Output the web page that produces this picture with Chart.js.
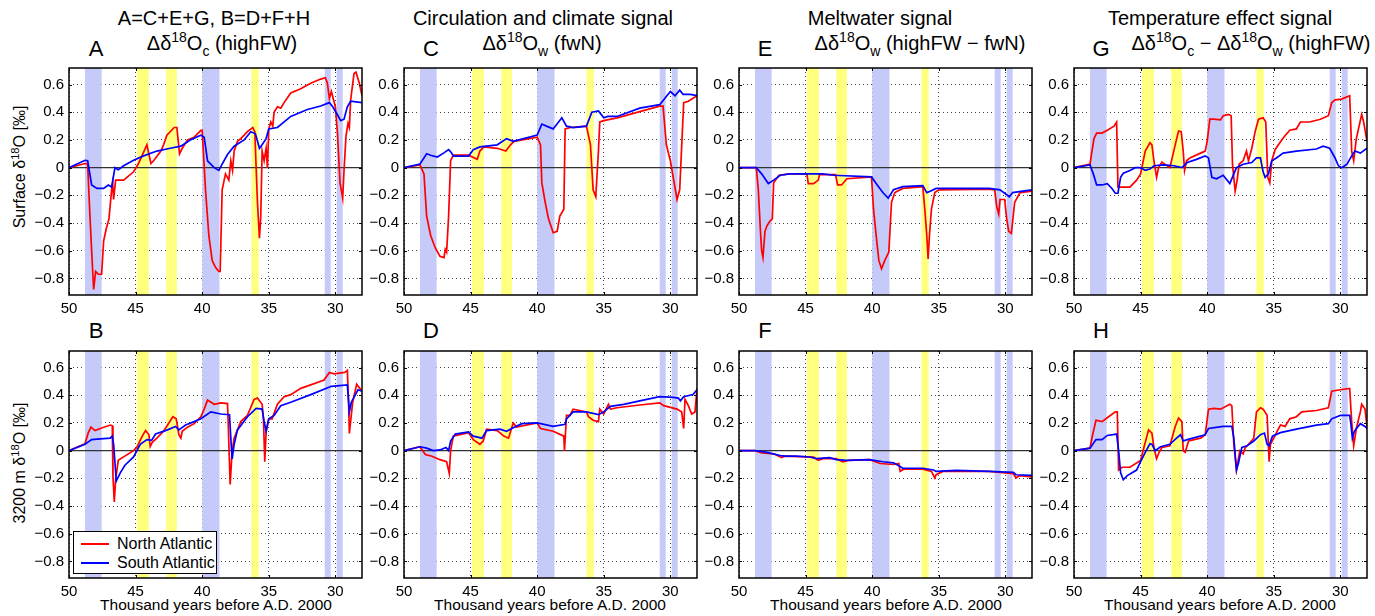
<!DOCTYPE html>
<html>
<head>
<meta charset="utf-8">
<script src="https://cdn.jsdelivr.net/npm/chart.js@4.4.0/dist/chart.umd.min.js"></script>
<style>
  body {
    margin: 0;
    width: 1375px;
    height: 616px;
    position: relative;
    overflow: hidden;
    background: #fff;
    font-family: "Liberation Sans", Arial, sans-serif;
    color: #000;
  }
  canvas { position: absolute; }
  .txt {
    position: absolute;
    white-space: nowrap;
    transform: translate(-50%, -50%);
    line-height: 1;
  }
  .title { font-size: 20px; }
  .letter { font-size: 22px; }
  .ylab { font-size: 16px; transform: translate(-50%, -50%) rotate(-90deg); }
  .xlab { font-size: 15.5px; }
  sup, sub { font-size: 70%; line-height: 0; position: relative; vertical-align: baseline; }
  sup { top: -0.55em; }
  sub { top: 0.45em; }
  #legend {
    position: absolute;
    left: 73px; top: 531px; width: 142px; height: 41px;
    background: #fff; border: 1px solid #000;
    font-size: 16px;
  }
  .lg { position: absolute; left: 7px; height: 0; width: 28px; border-top: 2px solid; }
  .lt { position: absolute; left: 43px; transform: translateY(-50%); white-space: nowrap; line-height: 1; }
</style>
</head>
<body>

<div class="txt title" style="left:214px; top:18px;">A=C+E+G, B=D+F+H</div>
<div class="txt title" style="left:222px; top:43px;">&Delta;&delta;<sup>18</sup>O<sub>c</sub> (highFW)</div>
<div class="txt title" style="left:543px; top:18px;">Circulation and climate signal</div>
<div class="txt title" style="left:542px; top:43px;">&Delta;&delta;<sup>18</sup>O<sub>w</sub> (fwN)</div>
<div class="txt title" style="left:880px; top:18px;">Meltwater signal</div>
<div class="txt title" style="left:920px; top:43px;">&Delta;&delta;<sup>18</sup>O<sub>w</sub> (highFW &minus; fwN)</div>
<div class="txt title" style="left:1220px; top:18px;">Temperature effect signal</div>
<div class="txt title" style="left:1251px; top:43px;">&Delta;&delta;<sup>18</sup>O<sub>c</sub> &minus; &Delta;&delta;<sup>18</sup>O<sub>w</sub> (highFW)</div>

<div class="txt letter" style="left:96px; top:49px;">A</div>
<div class="txt letter" style="left:431px; top:49px;">C</div>
<div class="txt letter" style="left:765px; top:49px;">E</div>
<div class="txt letter" style="left:1101px; top:49px;">G</div>
<div class="txt letter" style="left:96px; top:331px;">B</div>
<div class="txt letter" style="left:431px; top:331px;">D</div>
<div class="txt letter" style="left:765px; top:331px;">F</div>
<div class="txt letter" style="left:1101px; top:331px;">H</div>

<div class="txt ylab" style="left:20px; top:167px;">Surface &delta;<sup>18</sup>O [&permil;]</div>
<div class="txt ylab" style="left:20px; top:463px;">3200 m &delta;<sup>18</sup>O [&permil;]</div>

<div class="txt xlab" style="left:216px; top:605px;">Thousand years before A.D. 2000</div>
<div class="txt xlab" style="left:550px; top:605px;">Thousand years before A.D. 2000</div>
<div class="txt xlab" style="left:886px; top:605px;">Thousand years before A.D. 2000</div>
<div class="txt xlab" style="left:1220px; top:605px;">Thousand years before A.D. 2000</div>

<script>
// ages in thousand years before A.D. 2000, values in permil
const xTicks = [50, 45, 40, 35, 30];
const yTicks = [-0.8, -0.6, -0.4, -0.2, 0, 0.2, 0.4, 0.6];

// stadial / event shading
const blueBands = [[48.8, 47.55], [40.0, 38.7], [30.8, 30.35], [29.9, 29.45]];
const yellowBands = [[44.9, 44.0], [42.7, 41.9], [36.3, 35.75]];

const seriesNames = ["North Atlantic", "South Atlantic"];

// A: surface d18Oc (highFW)
const aNorth = [[50,0],[48.8,0.03],[48.6,0.025],[48.45,-0.3],[48.3,-0.6],[48.15,-0.88],[48.0,-0.75],[47.8,-0.77],[47.55,-0.77],[47.4,-0.53],[47.2,-0.44],[47.0,-0.37],[46.8,-0.16],[46.72,-0.11],[46.65,-0.23],[46.5,-0.09],[45.9,-0.09],[45.15,-0.03],[44.8,0.026],[44.15,0.165],[43.85,0.03],[43.65,0.05],[43.1,0.12],[42.9,0.165],[42.65,0.235],[42.1,0.29],[41.9,0.29],[41.7,0.1],[41.5,0.14],[41.1,0.2],[40.6,0.22],[40.1,0.27],[40.0,0.27],[39.75,-0.16],[39.5,-0.49],[39.25,-0.67],[39.0,-0.72],[38.75,-0.75],[38.65,-0.75],[38.5,-0.16],[38.25,-0.045],[38.0,-0.09],[37.85,0.05],[37.72,-0.02],[37.6,0.12],[37.35,0.19],[37.1,0.21],[36.6,0.26],[36.2,0.29],[36.05,0.26],[35.85,-0.25],[35.7,-0.51],[35.6,-0.35],[35.5,0.12],[35.35,0.05],[35.2,0.14],[35.1,0.0],[35.0,0.28],[34.85,0.33],[34.7,0.3],[34.6,0.4],[34.35,0.44],[34.1,0.43],[33.85,0.47],[33.35,0.54],[32.6,0.57],[31.85,0.61],[31.1,0.64],[30.75,0.65],[30.6,0.61],[30.45,0.5],[30.3,0.55],[30.0,0.44],[29.85,0.26],[29.65,-0.11],[29.45,-0.22],[29.35,-0.02],[29.2,0.23],[29.05,0.32],[28.95,0.29],[28.85,0.49],[28.6,0.68],[28.45,0.69],[28.2,0.61],[28.0,0.52]];
const aSouth = [[50,0],[48.8,0.053],[48.6,0.05],[48.3,-0.125],[47.9,-0.15],[47.4,-0.15],[47.05,-0.125],[46.8,-0.14],[46.55,0],[46.3,-0.015],[45.9,0.014],[45.15,0.053],[44.4,0.085],[43.4,0.12],[42.4,0.14],[41.6,0.155],[40.9,0.2],[40.1,0.235],[39.85,0.22],[39.6,0.05],[39.1,0],[38.75,-0.02],[38.5,0.025],[38.1,0.095],[37.6,0.155],[36.85,0.2],[36.35,0.26],[36.0,0.245],[35.7,0.14],[35.5,0.165],[35.2,0.21],[35.0,0.28],[34.35,0.29],[33.35,0.37],[32.1,0.42],[31.1,0.445],[30.45,0.47],[30.2,0.44],[29.8,0.375],[29.6,0.34],[29.35,0.35],[29.1,0.44],[28.85,0.48],[28.0,0.47]];

// B: 3200 m d18Oc (highFW)
const bNorth = [[50,0],[48.8,0.05],[48.55,0.13],[48.35,0.17],[48.05,0.145],[47.65,0.16],[46.9,0.185],[46.75,0.18],[46.7,-0.185],[46.6,-0.37],[46.5,-0.21],[46.3,-0.07],[45.9,-0.045],[45.15,0],[44.9,0.025],[44.5,0.105],[44.25,0.145],[44.0,0.115],[43.9,0.03],[43.75,0.06],[43.4,0.09],[42.9,0.14],[42.5,0.2],[42.2,0.245],[41.95,0.23],[41.75,0.115],[41.6,0.09],[41.5,0.14],[41.1,0.17],[40.6,0.195],[40.1,0.245],[39.85,0.3],[39.6,0.365],[39.1,0.335],[38.6,0.345],[38.1,0.34],[38.05,0.21],[37.9,-0.245],[37.75,0.0],[37.6,0.09],[37.1,0.21],[36.6,0.255],[36.1,0.37],[35.85,0.38],[35.5,0.335],[35.4,0.23],[35.3,-0.08],[35.2,0.14],[35.0,0.23],[34.75,0.23],[34.35,0.335],[33.85,0.39],[33.35,0.405],[32.6,0.45],[31.85,0.475],[30.85,0.51],[30.45,0.565],[30.1,0.555],[29.3,0.565],[29.1,0.58],[29.0,0.325],[28.95,0.125],[28.7,0.35],[28.4,0.48],[28.0,0.43]];
const bSouth = [[50,0],[48.8,0.046],[48.3,0.08],[47.65,0.085],[46.9,0.09],[46.75,0.105],[46.65,0.046],[46.45,-0.22],[46.15,-0.16],[45.8,-0.105],[45.15,-0.045],[44.65,0.046],[44.15,0.08],[43.8,0.074],[43.5,0.12],[42.6,0.15],[42.0,0.175],[41.75,0.15],[41.25,0.185],[40.6,0.21],[40.1,0.23],[39.35,0.28],[38.6,0.265],[37.95,0.26],[37.85,0.09],[37.75,-0.06],[37.6,0.046],[37.35,0.15],[36.6,0.245],[35.95,0.305],[35.5,0.3],[35.35,0.21],[35.2,0.14],[35.0,0.23],[34.6,0.255],[34.1,0.325],[33.35,0.35],[31.85,0.405],[30.3,0.465],[29.1,0.475],[28.95,0.28],[28.8,0.35],[28.3,0.44],[28.0,0.43]];

// C: surface d18Ow (fwN)
const cNorth = [[50,0],[48.8,0.02],[48.5,-0.045],[48.3,-0.35],[48.0,-0.49],[47.65,-0.58],[47.3,-0.64],[47.0,-0.65],[46.9,-0.59],[46.8,-0.61],[46.65,-0.35],[46.5,0.05],[46.3,0.09],[45.15,0.09],[44.5,0.06],[44.3,0.12],[44.0,0.15],[43.0,0.14],[42.35,0.12],[42.0,0.165],[41.75,0.19],[40.0,0.22],[39.75,0.165],[39.65,-0.11],[39.4,-0.25],[39.15,-0.37],[38.8,-0.47],[38.5,-0.46],[38.3,-0.35],[38.0,-0.3],[37.9,0.28],[37.5,0.29],[36.3,0.3],[36.0,0.165],[35.8,-0.16],[35.6,-0.21],[35.4,0.12],[35.3,0.33],[35.0,0.34],[34.0,0.36],[30.8,0.445],[30.55,0.445],[30.3,0.165],[30.0,0.05],[29.5,-0.23],[29.3,-0.16],[29.0,0.47],[28.65,0.48],[28.0,0.52]];
const cSouth = [[50,0],[48.8,0.026],[48.3,0.1],[48.0,0.09],[47.5,0.077],[47.0,0.107],[46.65,0.13],[46.45,0.11],[46.3,0.084],[45.15,0.084],[44.8,0.13],[44.3,0.15],[43.0,0.165],[42.3,0.21],[41.8,0.19],[40.0,0.235],[39.65,0.315],[39.3,0.3],[38.8,0.28],[38.15,0.36],[37.8,0.3],[37.3,0.29],[36.3,0.3],[35.9,0.4],[35.4,0.41],[35.0,0.36],[34.7,0.37],[34.0,0.37],[32.3,0.43],[30.8,0.455],[30.0,0.55],[29.65,0.52],[29.3,0.56],[29.05,0.53],[28.5,0.53],[28.0,0.52]];

// D: 3200 m d18Ow (fwN)
const dNorth = [[50,0],[48.8,0.028],[48.4,-0.028],[47.9,-0.04],[47.3,-0.065],[46.8,-0.08],[46.6,-0.165],[46.5,0],[46.3,0.105],[45.15,0.13],[44.8,0.08],[44.3,0.046],[44.05,0.07],[43.8,0.155],[43.0,0.145],[42.5,0.105],[42.15,0.09],[41.8,0.2],[41.55,0.17],[40.0,0.2],[39.75,0.16],[38.8,0.14],[38.0,0.105],[37.95,0],[37.8,0.255],[37.55,0.255],[37.3,0.3],[36.3,0.28],[36.15,0.245],[35.8,0.22],[35.4,0.21],[35.3,0.3],[35.0,0.265],[34.65,0.335],[34.5,0.3],[34.0,0.31],[32.3,0.33],[30.8,0.345],[30.5,0.325],[29.5,0.3],[29.15,0.28],[29.0,0.16],[28.9,0.37],[28.65,0.325],[28.4,0.265],[28.15,0.28],[28.0,0.45]];
const dSouth = [[50,0],[48.8,0.028],[48.3,0.018],[47.8,0],[47.3,0.005],[46.85,0.023],[46.65,0],[46.5,0.07],[46.15,0.12],[45.15,0.135],[44.8,0.105],[44.15,0.09],[43.8,0.145],[42.8,0.155],[42.3,0.14],[41.8,0.165],[41.15,0.195],[40.0,0.2],[38.8,0.175],[37.9,0.19],[37.8,0.23],[37.3,0.28],[36.3,0.28],[35.4,0.26],[35.0,0.28],[34.5,0.32],[33.5,0.335],[32.3,0.36],[30.8,0.39],[29.8,0.385],[29.4,0.38],[29.25,0.36],[29.0,0.39],[28.3,0.405],[28.0,0.44]];

// E: surface d18Ow (highFW - fwN)
const eNorth = [[50,0],[48.7,0],[48.55,-0.16],[48.4,-0.44],[48.3,-0.6],[48.2,-0.65],[48.05,-0.46],[47.9,-0.42],[47.7,-0.39],[47.5,-0.37],[47.4,-0.11],[47.0,-0.055],[46.2,-0.045],[44.9,-0.045],[44.8,-0.115],[44.4,-0.115],[44.05,-0.09],[43.95,-0.05],[42.75,-0.05],[42.6,-0.125],[42.3,-0.125],[41.9,-0.08],[40.05,-0.067],[39.9,-0.3],[39.7,-0.49],[39.5,-0.67],[39.3,-0.73],[39.05,-0.67],[38.75,-0.61],[38.55,-0.25],[38.3,-0.18],[37.7,-0.15],[36.2,-0.137],[36.05,-0.3],[35.9,-0.49],[35.8,-0.66],[35.7,-0.49],[35.55,-0.3],[35.3,-0.18],[35.0,-0.16],[31.2,-0.155],[30.8,-0.16],[30.65,-0.28],[30.5,-0.335],[30.4,-0.23],[30.05,-0.23],[29.9,-0.37],[29.75,-0.46],[29.55,-0.475],[29.3,-0.25],[28.9,-0.18],[28.0,-0.17]];
const eSouth = [[50,0],[48.7,0],[48.3,-0.045],[47.8,-0.115],[47.4,-0.09],[46.9,-0.055],[46.2,-0.045],[43.7,-0.045],[42.9,-0.055],[40.05,-0.067],[39.7,-0.115],[39.2,-0.18],[38.8,-0.22],[38.4,-0.16],[37.7,-0.137],[36.2,-0.13],[35.9,-0.18],[35.65,-0.17],[35.2,-0.15],[31.2,-0.15],[30.4,-0.16],[29.7,-0.21],[29.45,-0.18],[28.7,-0.17],[28.0,-0.16]];

// F: 3200 m d18Ow (highFW - fwN)
const fNorth = [[50,0],[48.8,0],[48.3,-0.016],[47.4,-0.023],[46.8,-0.05],[46.6,-0.04],[44.4,-0.046],[44.05,-0.07],[43.7,-0.058],[42.7,-0.058],[42.2,-0.08],[41.8,-0.07],[40.2,-0.065],[39.4,-0.093],[38.4,-0.1],[38.0,-0.093],[37.9,-0.15],[37.65,-0.134],[36.2,-0.134],[35.55,-0.15],[35.3,-0.197],[35.2,-0.174],[34.7,-0.15],[31.2,-0.15],[29.4,-0.167],[29.2,-0.197],[28.95,-0.18],[28.0,-0.19]];
const fSouth = [[50,0],[48.8,0],[47.9,-0.012],[46.9,-0.035],[46.6,-0.04],[45.7,-0.04],[44.7,-0.046],[44.2,-0.058],[43.2,-0.05],[42.7,-0.065],[41.9,-0.07],[40.2,-0.065],[39.2,-0.08],[38.4,-0.088],[37.9,-0.115],[37.7,-0.127],[36.2,-0.127],[35.4,-0.14],[35.2,-0.15],[33.7,-0.143],[31.2,-0.15],[29.4,-0.157],[29.2,-0.174],[28.0,-0.178]];

// G: surface d18Oc - d18Ow (highFW)
const gNorth = [[50,0],[48.8,0.025],[48.65,0.12],[48.5,0.21],[48.3,0.25],[47.9,0.25],[47.5,0.27],[47.0,0.3],[46.8,0.33],[46.7,-0.14],[46.4,-0.14],[45.8,-0.14],[45.3,-0.09],[45.0,-0.045],[44.65,0.12],[44.3,0.18],[44.15,0.165],[44.0,0.05],[43.8,-0.07],[43.65,0],[43.4,0.04],[42.8,0],[42.4,0.165],[42.15,0.265],[41.95,0.26],[41.8,0.12],[41.7,-0.02],[41.55,0.05],[41.3,0.07],[40.5,0.105],[40.15,0.12],[40.0,0.19],[39.8,0.35],[39.5,0.35],[39.0,0.345],[38.8,0.375],[38.4,0.385],[38.2,0.375],[38.1,0.025],[37.9,-0.17],[37.75,-0.09],[37.6,0.025],[37.3,0.05],[37.05,0.12],[36.9,0.05],[36.65,0.14],[36.4,0.26],[36.15,0.35],[35.8,0.36],[35.6,0.33],[35.45,-0.07],[35.3,-0.11],[35.15,0.05],[34.9,0.13],[34.65,0.165],[34.4,0.2],[34.25,0.22],[33.8,0.27],[33.3,0.28],[33.0,0.33],[32.3,0.33],[31.5,0.35],[30.9,0.375],[30.65,0.47],[30.4,0.49],[29.9,0.495],[29.3,0.52],[29.15,0.12],[29.0,0.05],[28.8,0.21],[28.4,0.385],[28.25,0.33],[28.0,0.19]];
const gSouth = [[50,0],[48.8,0.02],[48.55,-0.045],[48.3,-0.125],[47.9,-0.125],[47.5,-0.115],[47.15,-0.15],[46.9,-0.185],[46.7,-0.185],[46.5,-0.07],[46.3,-0.04],[45.8,-0.02],[45.4,0],[45.0,0],[44.65,-0.02],[44.3,-0.01],[44.0,0.014],[43.3,0.02],[42.5,0.014],[41.9,0],[41.5,0.037],[40.8,0.06],[40.15,0.085],[39.9,0.07],[39.65,-0.07],[39.3,-0.08],[38.8,-0.055],[38.3,-0.115],[38.0,-0.045],[37.8,0],[37.3,0.025],[36.65,0.037],[36.3,0.07],[36.0,0.07],[35.8,-0.03],[35.65,-0.07],[35.4,-0.045],[35.15,0.05],[34.8,0.07],[34.3,0.105],[33.3,0.12],[31.8,0.135],[31.3,0.155],[30.8,0.14],[30.4,0.07],[30.15,0.014],[29.9,0],[29.5,0.025],[29.15,0.085],[28.9,0.12],[28.5,0.105],[28.0,0.14]];

// H: 3200 m d18Oc - d18Ow (highFW)
const hNorth = [[50,0],[48.8,0.018],[48.6,0.115],[48.35,0.22],[47.9,0.21],[47.4,0.245],[46.9,0.28],[46.75,0.28],[46.65,-0.14],[46.4,-0.12],[45.8,-0.12],[45.0,-0.07],[44.75,0.023],[44.4,0.15],[44.15,0.127],[44.0,0.023],[43.8,-0.058],[43.6,-0.01],[43.4,0.023],[42.8,0.035],[42.4,0.175],[42.15,0.235],[41.9,0.21],[41.8,0],[41.65,-0.012],[41.4,0.07],[40.5,0.09],[40.15,0.115],[39.9,0.3],[39.5,0.305],[39.0,0.3],[38.3,0.335],[38.15,0.325],[38.0,0.046],[37.8,-0.14],[37.55,0],[37.3,-0.023],[37.15,0.02],[36.9,0.046],[36.5,0.09],[36.3,0.28],[36.0,0.31],[35.8,0.3],[35.5,0.255],[35.35,-0.08],[35.25,0.046],[35.0,0.09],[34.75,0.14],[34.5,0.185],[34.15,0.175],[33.8,0.23],[33.3,0.245],[32.9,0.28],[31.8,0.29],[30.9,0.31],[30.65,0.43],[30.0,0.44],[29.3,0.45],[29.15,0.21],[29.0,0.035],[28.8,0.16],[28.5,0.28],[28.4,0.335],[28.15,0.3],[28.0,0.175]];
const hSouth = [[50,0],[48.8,0.018],[48.35,0.08],[47.9,0.08],[47.5,0.11],[46.8,0.12],[46.65,0],[46.5,-0.16],[46.3,-0.21],[46.0,-0.18],[45.3,-0.14],[45.0,-0.08],[44.65,-0.012],[44.3,0.05],[44.15,0.046],[43.9,0],[43.5,0.028],[42.8,0.046],[42.3,0.09],[42.0,0.115],[41.8,0.07],[41.5,0.08],[40.15,0.115],[39.9,0.16],[38.8,0.175],[38.15,0.175],[38.0,0.09],[37.8,-0.14],[37.65,-0.09],[37.4,0.023],[37.0,0.035],[36.5,0.07],[36.0,0.115],[35.7,0.127],[35.5,0.046],[35.35,0.035],[35.1,0.105],[34.5,0.13],[33.3,0.155],[31.8,0.185],[30.9,0.195],[30.65,0.23],[30.0,0.255],[29.3,0.255],[29.2,0.185],[29.1,0.09],[28.95,0.14],[28.5,0.195],[28.15,0.175],[28.0,0.16]];

const RED = "#ff0000";
const BLUE = "#0000ff";
const BLUE_BAND = "rgb(198, 202, 248)";
const YELLOW_BAND = "rgb(255, 255, 128)";
const FONT = "'Liberation Sans', Arial, sans-serif";

const PLOT_W = 293;
const PLOT_H = 235;
const Y_AXIS_W = 55;
const X_AXIS_H = 28;
const PAD_TOP = 6;
const PAD_RIGHT = 6;

const panels = [
  { left: 69, top: 60, north: aNorth, south: aSouth },
  { left: 404, top: 60, north: cNorth, south: cSouth },
  { left: 739, top: 60, north: eNorth, south: eSouth },
  { left: 1074, top: 60, north: gNorth, south: gSouth },
  { left: 69, top: 343, north: bNorth, south: bSouth },
  { left: 404, top: 343, north: dNorth, south: dSouth },
  { left: 739, top: 343, north: fNorth, south: fSouth },
  { left: 1074, top: 343, north: hNorth, south: hSouth },
];

function toXY(pairs) {
  return pairs.map(([x, y]) => ({ x: x, y: y }));
}

function fmtTick(value) {
  if (Math.abs(value) < 1e-9) return "0";
  const s = Math.abs(value) % 1 === 0 ? String(Math.abs(value)) : Math.abs(value).toFixed(1);
  return (value < 0 ? "\u2212" : "") + s;
}

// shaded bands under the curves, box and inward ticks on top
const bandPlugin = {
  id: "bands",
  beforeDatasetsDraw(chart) {
    const { ctx, chartArea: a, scales: { x } } = chart;
    ctx.save();
    [[blueBands, BLUE_BAND], [yellowBands, YELLOW_BAND]].forEach(([bands, col]) => {
      ctx.fillStyle = col;
      bands.forEach(([s, e]) => {
        const x1 = x.getPixelForValue(s);
        const x2 = x.getPixelForValue(e);
        ctx.fillRect(Math.min(x1, x2), a.top, Math.abs(x2 - x1), a.bottom - a.top);
      });
    });
    ctx.restore();
  },
  afterDraw(chart) {
    const { ctx, chartArea: a, scales: { x, y } } = chart;
    ctx.save();
    ctx.strokeStyle = "#000";
    ctx.lineWidth = 1;
    ctx.beginPath();
    xTicks.forEach((v) => {
      const px = Math.round(x.getPixelForValue(v)) + 0.5;
      ctx.moveTo(px, a.bottom); ctx.lineTo(px, a.bottom - 3);
      ctx.moveTo(px, a.top); ctx.lineTo(px, a.top + 3);
    });
    yTicks.forEach((v) => {
      const py = Math.round(y.getPixelForValue(v)) + 0.5;
      ctx.moveTo(a.left, py); ctx.lineTo(a.left + 3, py);
      ctx.moveTo(a.right, py); ctx.lineTo(a.right - 3, py);
    });
    ctx.stroke();
    ctx.lineWidth = 1.5;
    ctx.strokeRect(a.left, a.top, a.right - a.left, a.bottom - a.top);
    ctx.restore();
  },
};

panels.forEach((p) => {
  const canvas = document.createElement("canvas");
  const w = Y_AXIS_W + PLOT_W + PAD_RIGHT;
  const h = PAD_TOP + PLOT_H + X_AXIS_H;
  canvas.width = w;
  canvas.height = h;
  canvas.style.left = (p.left - Y_AXIS_W) + "px";
  canvas.style.top = (p.top - PAD_TOP) + "px";
  canvas.style.width = w + "px";
  canvas.style.height = h + "px";
  document.body.insertBefore(canvas, document.getElementById("legend"));

  new Chart(canvas, {
    type: "line",
    data: {
      datasets: [
        {
          label: seriesNames[1],
          data: toXY(p.south),
          borderColor: BLUE,
          borderWidth: 1.7,
          order: 0,
        },
        {
          label: seriesNames[0],
          data: toXY(p.north),
          borderColor: RED,
          borderWidth: 1.7,
          order: 1,
        },
        {
          label: "zero",
          data: [{ x: 50, y: 0 }, { x: 28, y: 0 }],
          borderColor: "#333",
          borderWidth: 1.2,
          order: 2,
        },
      ],
    },
    options: {
      responsive: false,
      animation: false,
      devicePixelRatio: 1,
      parsing: false,
      layout: { padding: { top: PAD_TOP, right: PAD_RIGHT, left: 0, bottom: 0 } },
      elements: { point: { radius: 0 }, line: { tension: 0 } },
      plugins: { legend: { display: false }, tooltip: { enabled: false } },
      scales: {
        x: {
          type: "linear",
          min: 28,
          max: 50,
          reverse: true,
          afterBuildTicks: (s) => { s.ticks = xTicks.map((v) => ({ value: v })); },
          afterFit: (s) => { s.height = X_AXIS_H; },
          grid: { color: "#444", lineWidth: 1, drawTicks: false },
          border: { display: false, dash: [1, 3] },
          ticks: {
            color: "#000",
            font: { family: FONT, size: 15 },
            padding: 5,
            maxRotation: 0,
            autoSkip: false,
            callback: (v) => fmtTick(v),
          },
        },
        y: {
          type: "linear",
          min: -0.92,
          max: 0.72,
          afterBuildTicks: (s) => { s.ticks = yTicks.map((v) => ({ value: v })); },
          afterFit: (s) => { s.width = Y_AXIS_W; },
          grid: { color: "#444", lineWidth: 1, drawTicks: false },
          border: { display: false, dash: [1, 3] },
          ticks: {
            color: "#000",
            font: { family: FONT, size: 15 },
            padding: 5,
            autoSkip: false,
            callback: (v) => fmtTick(v),
          },
        },
      },
    },
    plugins: [bandPlugin],
  });
});
</script>

<div id="legend">
  <div class="lg" style="top:11px; border-color:#ff0000;"></div>
  <div class="lt" style="top:12px;">North Atlantic</div>
  <div class="lg" style="top:30px; border-color:#0000ff;"></div>
  <div class="lt" style="top:31px;">South Atlantic</div>
</div>

</body>
</html>
